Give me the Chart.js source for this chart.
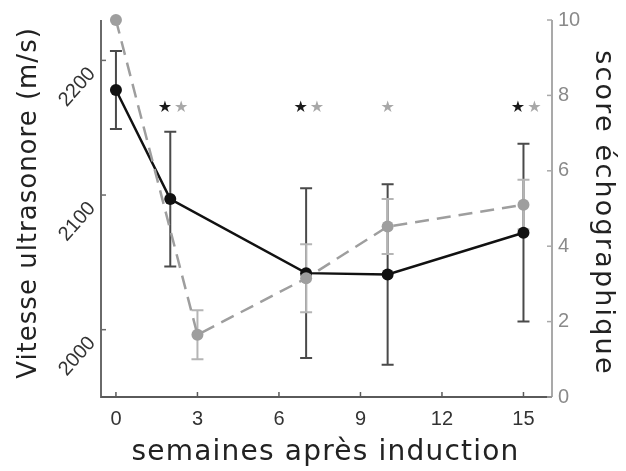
<!DOCTYPE html>
<html>
<head>
<meta charset="utf-8">
<script src="https://cdn.jsdelivr.net/npm/chart.js@4.4.1/dist/chart.umd.min.js"></script>
<style>
  html, body { margin: 0; padding: 0; background: #fff; }
  #wrap { width: 626px; height: 471px; }
</style>
</head>
<body>
<div id="wrap"><canvas id="c" width="626" height="471"></canvas></div>
<script>
// ---- data ----
const weeksV = [0, 2, 7, 10, 15];
const vitesse = [2178, 2097, 2042, 2041, 2072];
const vitesseErr = [29, 50, 63, 67, 66];
const weeksS = [0, 3, 7, 10, 15];
const score = [10, 1.65, 3.15, 4.52, 5.1];
const scoreErr = [0, 0.65, 0.9, 0.73, 0.66];
const starsVx = [1.8, 6.8, 14.8];
const starsSx = [2.4, 7.4, 10, 15.4];
const starLevel = 2165;
const xTicks = [0, 3, 6, 9, 12, 15];
const yTicks = [2000, 2100, 2200];
const y2Ticks = [0, 2, 4, 6, 8, 10];
const xTitle = 'semaines après induction';
const yTitle = 'Vitesse ultrasonore (m/s)';
const y2Title = 'score échographique';

const FONT = '"DejaVu Sans", sans-serif';
const TICKFONT = '"Liberation Sans", Arial, sans-serif';

const decor = {
  id: 'decor',
  beforeDatasetsDraw(chart) {
    const ctx = chart.ctx;
    const xs = chart.scales.x;
    // error bars
    chart.data.datasets.slice().reverse().forEach(ds => {
      const ys = chart.scales[ds.yAxisID];
      ctx.save();
      ctx.strokeStyle = ds.errColor;
      ctx.lineWidth = 2;
      ds.data.forEach((p, i) => {
        const e = ds.errors[i];
        if (!e) return;
        const px = xs.getPixelForValue(p.x);
        const t = ys.getPixelForValue(p.y + e);
        const b = ys.getPixelForValue(p.y - e);
        ctx.beginPath();
        ctx.moveTo(px, t); ctx.lineTo(px, b);
        ctx.moveTo(px - 6, t); ctx.lineTo(px + 6, t);
        ctx.moveTo(px - 6, b); ctx.lineTo(px + 6, b);
        ctx.stroke();
      });
      ctx.restore();
    });
  },
  afterDraw(chart) {
    const ctx = chart.ctx;
    const a = chart.chartArea;
    const xs = chart.scales.x, ys = chart.scales.y, ys2 = chart.scales.y2;
    ctx.save();
    // axes lines
    ctx.lineWidth = 2;
    ctx.strokeStyle = '#6a6a6a';
    ctx.beginPath(); ctx.moveTo(a.left, a.top); ctx.lineTo(a.left, a.bottom + 1); ctx.stroke();
    ctx.strokeStyle = '#a9a9a9';
    ctx.beginPath(); ctx.moveTo(a.right, a.top); ctx.lineTo(a.right, a.bottom); ctx.stroke();
    ctx.strokeStyle = '#5a5a5a';
    ctx.beginPath(); ctx.moveTo(a.left, a.bottom); ctx.lineTo(a.right, a.bottom); ctx.stroke();
    // inward ticks
    ctx.lineWidth = 1.5;
    ctx.strokeStyle = '#5a5a5a';
    xTicks.forEach(v => {
      const px = xs.getPixelForValue(v);
      ctx.beginPath(); ctx.moveTo(px, a.bottom); ctx.lineTo(px, a.bottom - 5); ctx.stroke();
    });
    ctx.strokeStyle = '#6a6a6a';
    yTicks.forEach(v => {
      const py = ys.getPixelForValue(v);
      ctx.beginPath(); ctx.moveTo(a.left, py); ctx.lineTo(a.left + 5, py); ctx.stroke();
    });
    ctx.strokeStyle = '#a9a9a9';
    y2Ticks.forEach(v => {
      const py = ys2.getPixelForValue(v);
      ctx.beginPath(); ctx.moveTo(a.right, py); ctx.lineTo(a.right - 5, py); ctx.stroke();
    });
    // rotated left tick labels
    ctx.fillStyle = '#333';
    ctx.font = '20px ' + TICKFONT;
    ctx.textAlign = 'right';
    ctx.textBaseline = 'middle';
    yTicks.forEach(v => {
      const py = ys.getPixelForValue(v);
      ctx.save();
      ctx.translate(a.left - 9, py + 10);
      ctx.rotate(-Math.PI * 0.27);
      ctx.fillText(String(v), 0, 0);
      ctx.restore();
    });
    // stars
    ctx.font = '16px ' + FONT;
    ctx.textAlign = 'center';
    ctx.textBaseline = 'middle';
    const sy = ys.getPixelForValue(starLevel);
    ctx.fillStyle = '#1a1a1a';
    starsVx.forEach(v => ctx.fillText('★', xs.getPixelForValue(v), sy));
    ctx.fillStyle = '#a8a8a8';
    starsSx.forEach(v => ctx.fillText('★', xs.getPixelForValue(v), sy));
    // titles
    ctx.fillStyle = '#222';
    ctx.textAlign = 'center';
    ctx.textBaseline = 'middle';
    ctx.font = '28px ' + FONT;
    ctx.letterSpacing = '1.2px';
    ctx.fillText(xTitle, (a.left + a.right) / 2 - 1, 453);
    ctx.save();
    ctx.font = '26px ' + FONT;
    ctx.letterSpacing = '1px';
    ctx.translate(29, 203);
    ctx.rotate(-Math.PI / 2);
    ctx.fillText(yTitle, 0, 0);
    ctx.restore();
    ctx.save();
    ctx.font = '27px ' + FONT;
    ctx.letterSpacing = '2.2px';
    ctx.translate(603, 213);
    ctx.rotate(Math.PI / 2);
    ctx.fillText(y2Title, 0, 0);
    ctx.restore();
    ctx.restore();
  }
};

new Chart(document.getElementById('c'), {
  type: 'line',
  data: {
    datasets: [
      {
        label: 'score',
        data: weeksS.map((x, i) => ({ x, y: score[i] })),
        yAxisID: 'y2',
        borderColor: '#9e9e9e',
        backgroundColor: '#9e9e9e',
        borderDash: [14, 8],
        borderWidth: 2.5,
        pointRadius: 6,
        pointBorderWidth: 0,
        clip: false,
        errors: scoreErr,
        errColor: '#b5b5b5'
      },
      {
        label: 'vitesse',
        data: weeksV.map((x, i) => ({ x, y: vitesse[i] })),
        yAxisID: 'y',
        borderColor: '#111',
        backgroundColor: '#111',
        borderWidth: 2.5,
        pointRadius: 6,
        pointBorderWidth: 0,
        clip: false,
        errors: vitesseErr,
        errColor: '#4a4a4a'
      }
    ]
  },
  options: {
    responsive: false,
    animation: false,
    events: [],
    layout: { padding: { top: 20, left: 0, right: 0, bottom: 0 } },
    plugins: { legend: { display: false }, tooltip: { enabled: false } },
    scales: {
      x: {
        type: 'linear',
        min: -0.55, max: 16.05,
        afterBuildTicks: s => { s.ticks = xTicks.map(v => ({ value: v })); },
        afterFit: s => { s.height = 74; },
        grid: { display: false, drawTicks: false },
        border: { display: false },
        ticks: { color: '#333', font: { family: TICKFONT, size: 20 }, padding: 10 }
      },
      y: {
        position: 'left',
        min: 1950, max: 2230,
        afterBuildTicks: s => { s.ticks = yTicks.map(v => ({ value: v })); },
        afterFit: s => { s.width = 101; },
        grid: { display: false, drawTicks: false },
        border: { display: false },
        ticks: { display: false }
      },
      y2: {
        position: 'right',
        min: 0, max: 10,
        afterBuildTicks: s => { s.ticks = y2Ticks.map(v => ({ value: v })); },
        afterFit: s => { s.width = 74; },
        grid: { display: false, drawTicks: false },
        border: { display: false },
        ticks: { color: '#8a8a8a', font: { family: TICKFONT, size: 20 }, padding: 6 }
      }
    }
  },
  plugins: [decor]
});
</script>
</body>
</html>
